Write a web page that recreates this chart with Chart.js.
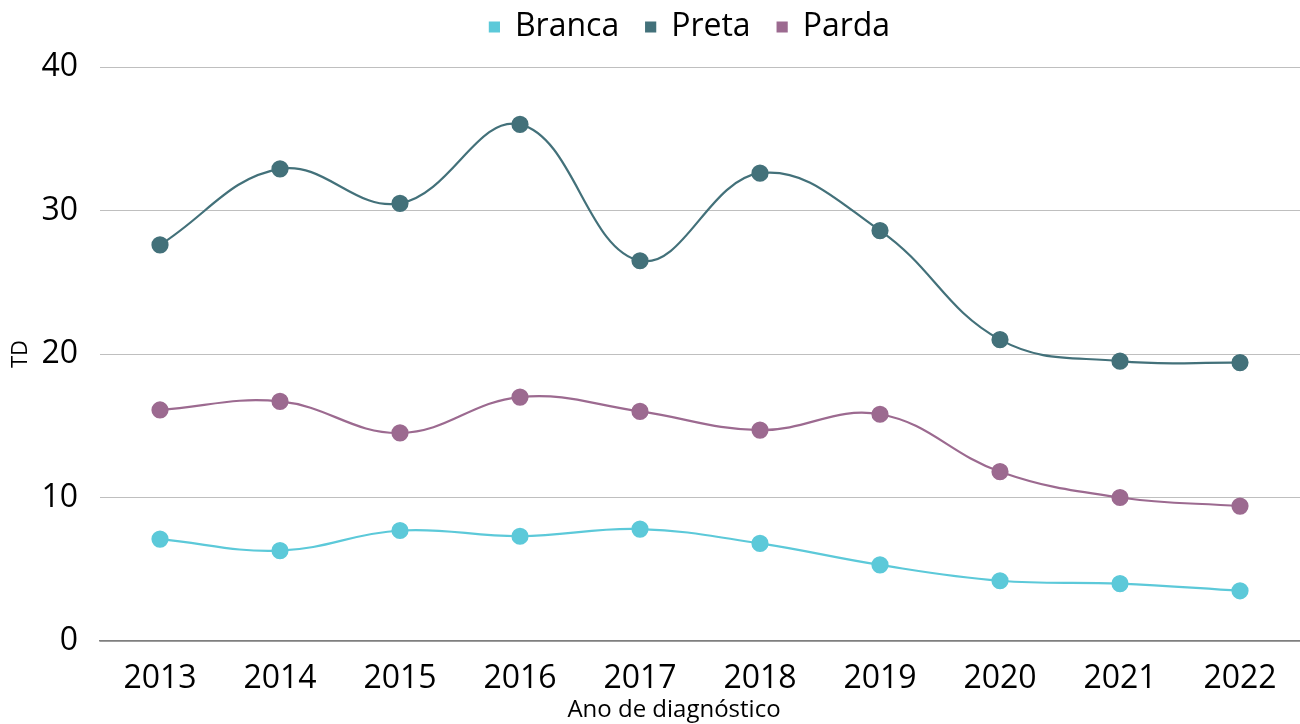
<!DOCTYPE html>
<html lang="pt-BR">
<head>
    <meta charset="UTF-8">
    <title>TD por raça/cor</title>
    <script src="https://cdn.jsdelivr.net/npm/chart.js"></script>
    <style>
        html, body { margin: 0; padding: 0; background: #fff; }
        .chart-container { width: 1300px; height: 724px; }
    </style>
</head>
<body>
    <div class="chart-container">
        <canvas id="tdChart"></canvas>
    </div>
    <script>
        const anos = ['2013', '2014', '2015', '2016', '2017', '2018', '2019', '2020', '2021', '2022'];
        const branca = [7.1, 6.3, 7.7, 7.3, 7.8, 6.8, 5.3, 4.2, 4.0, 3.5];
        const preta = [27.6, 32.9, 30.5, 36.0, 26.5, 32.6, 28.6, 21.0, 19.5, 19.4];
        const parda = [16.1, 16.7, 14.5, 17.0, 16.0, 14.7, 15.8, 11.8, 10.0, 9.4];
        const yTicks = [0, 10, 20, 30, 40];
        const tituloX = 'Ano de diagnóstico';

        const fonte = 'Open Sans';

        function serie(label, data, cor) {
            return {
                label: label,
                data: data,
                borderColor: cor,
                backgroundColor: cor,
                pointBackgroundColor: cor,
                pointBorderColor: cor,
                pointRadius: 7.5,
                pointHoverRadius: 7.5,
                borderWidth: 2.2,
                tension: 0.4,
                fill: false
            };
        }

        // legenda um pouco mais alta e deslocada para a direita
        const ajusteLegenda = {
            id: 'ajusteLegenda',
            beforeInit(chart) {
                const fit = chart.legend.fit;
                chart.legend.fit = function () {
                    fit.bind(chart.legend)();
                    this.height += 14;
                };
            },
            afterLayout(chart) {
                chart.legend.left += 80;
            }
        };

        // título do eixo x, um pouco à esquerda do centro do gráfico
        const tituloEixoX = {
            id: 'tituloEixoX',
            afterDraw(chart) {
                const c = chart.ctx;
                c.save();
                c.font = '24px "' + fonte + '"';
                c.fillStyle = '#000';
                c.textAlign = 'center';
                c.textBaseline = 'middle';
                c.fillText(tituloX, 674, 710);
                c.restore();
            }
        };

        const ctx = document.getElementById('tdChart').getContext('2d');
        new Chart(ctx, {
            type: 'line',
            data: {
                labels: anos,
                datasets: [
                    serie('Branca', branca, '#5cc9d9'),
                    serie('Preta', preta, '#43717a'),
                    serie('Parda', parda, '#9c6a90')
                ]
            },
            plugins: [ajusteLegenda, tituloEixoX],
            options: {
                responsive: true,
                maintainAspectRatio: false,
                animation: false,
                layout: { autoPadding: false, padding: { top: -16, right: 0, bottom: 0, left: 0 } },
                plugins: {
                    legend: {
                        position: 'top',
                        labels: {
                            usePointStyle: true,
                            pointStyle: 'rect',
                            boxWidth: 9,
                            boxHeight: 9,
                            padding: 27,
                            color: '#000',
                            font: { family: fonte, size: 32 }
                        }
                    },
                    tooltip: { enabled: false }
                },
                scales: {
                    x: {
                        offset: true,
                        afterFit: (scale) => { scale.height = 83; },
                        grid: { display: false, drawTicks: false },
                        border: { display: true, color: '#7f7f7f', width: 1.5 },
                        ticks: {
                            color: '#000',
                            padding: 19,
                            font: { family: fonte, size: 32 }
                        },
                        title: { display: false }
                    },
                    y: {
                        min: 0,
                        max: 40,
                        afterBuildTicks: (scale) => {
                            scale.ticks = yTicks.map(v => ({ value: v }));
                        },
                        afterFit: (scale) => { scale.width = 100; },
                        grid: { color: '#bfbfbf', lineWidth: 1, drawTicks: false },
                        border: { display: false },
                        ticks: {
                            color: '#000',
                            padding: 22,
                            font: { family: fonte, size: 32 }
                        },
                        title: {
                            display: true,
                            text: 'TD',
                            color: '#000',
                            padding: { top: 8, bottom: 0 },
                            font: { family: fonte, size: 22 }
                        }
                    }
                }
            }
        });
    </script>
</body>
</html>
